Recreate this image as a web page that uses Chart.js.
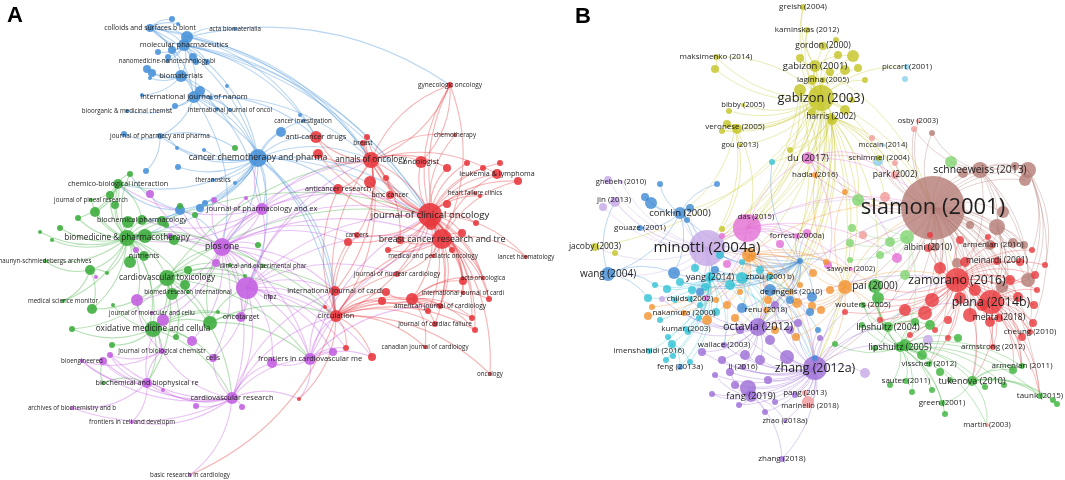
<!DOCTYPE html>
<html>
<head>
<meta charset="utf-8">
<script src="https://cdn.jsdelivr.net/npm/chart.js@4.4.1/dist/chart.umd.min.js"></script>
<style>
  html, body { margin: 0; background: #fff; }
  #wrap { width: 1065px; height: 480px; }
</style>
</head>
<body>
<div id="wrap"><canvas id="map"></canvas></div>
<script>
// map coordinates: [id, x, y, weight, label]

// ---- A : co-citation of journals ----
const blueA = [
  ['cs',150,28,16,'colloids and surfaces b biont'], ['b2',172,19,9], ['b3',187,37,36], ['b4',178,24,4],
  ['ab',235,29,4,'acta biomaterialia'], ['mp',184,45,36,'molecular pharmaceutics'],
  ['b5',172,50,16], ['b6',158,52,9], ['b7',193,57,16], ['b8',168,57,9],
  ['nn',167,61,4,'nanomedicine-nanotechnology bi'], ['b9',207,62,9], ['b10',196,62,9],
  ['bm',181,76,36,'biomaterials'], ['b11',147,69,16], ['b12',152,73,16], ['b13',150,78,4], ['b14',227,86,4],
  ['ijn',194,97,36,'international journal of nanom'], ['b15',200,91,25], ['b16',142,95,4], ['b17',211,98,4], ['b18',175,106,9],
  ['bo',127,111,4,'bioorganic & medicinal chemist'], ['ijo',230,110,4,'international journal of oncol'], ['b19',217,109,4],
  ['jpp',160,136,9,'journal of pharmacy and pharma'], ['b20',124,134,9], ['b21',177,148,4], ['b22',204,150,4],
  ['ccp',258,158,81,'cancer chemotherapy and pharma'], ['b23',146,171,9], ['b24',178,167,9], ['b25',235,183,4],
  ['th',213,180,4,'theranostics'], ['b26',180,210,25], ['b27',200,208,16], ['b28',205,203,9],
  ['ci',303,121,4,'cancer investigation'], ['b30',300,115,4], ['b29',281,132,25]
];
const greenA = [
  ['cbi',118,184,25,'chemico-biological interaction'], ['g1',130,174,9], ['g2',110,195,16], ['g3',115,205,16],
  ['jpr',91,200,4,'journal of pineal research'], ['bp',142,220,25,'biochemical pharmacology'],
  ['g4',95,212,25], ['g5',128,222,36], ['g6',162,221,25], ['g7',78,218,9], ['g8',60,228,9], ['g9',40,232,4], ['g10',52,240,4],
  ['bmp',127,238,64,'biomedicine & pharmacotherapy'], ['g11',145,236,49], ['g12',174,240,25],
  ['nut',144,256,25,'nutrients'], ['g13',130,262,36], ['nsa',45,261,4,'naunyn-schmiedebergs archives'],
  ['g15',90,270,25], ['g16',107,273,4], ['cvt',167,278,64,'cardiovascular toxicology'],
  ['g17',185,285,25], ['g18',188,270,16], ['g19',172,294,36], ['bri',188,292,4,'biomed research international'],
  ['msm',63,301,4,'medical science monitor'], ['g20',92,309,25], ['g21',113,305,4], ['g22',72,329,9],
  ['omc',153,329,64,'oxidative medicine and cellula'], ['g23',210,323,49], ['g24',176,337,9], ['g25',112,345,9],
  ['cep',263,266,4,'clinical and experimental phar'], ['g26',230,265,4], ['g27',195,215,9], ['g28',258,245,9],
  ['g29',180,206,9], ['g30',166,225,9], ['g31',103,383,4], ['g32',235,148,9], ['g33',245,276,4], ['g34',218,312,4]
];
const purpleA = [
  ['pl',222,247,81,'plos one'], ['p1',247,288,121], ['jpe',262,209,36,'journal of pharmacology and ex'],
  ['ot',241,317,25,'oncotarget'], ['hf',270,297,4,'hfpz'], ['jmc',152,313,4,'journal of molecular and cellu'],
  ['p2',163,320,36], ['p3',137,300,36], ['jbc',162,351,9,'journal of biological chemistr'],
  ['ce',213,358,16,'cells'], ['p4',192,341,25], ['be',82,361,4,'bioengineered'], ['p5',103,361,16], ['p6',110,355,9],
  ['bbr',147,383,25,'biochemical and biophysical re'], ['p7',163,390,4],
  ['cvr',232,398,36,'cardiovascular research'], ['p8',242,407,9], ['p9',196,406,9],
  ['abb',72,408,4,'archives of biochemistry and b'], ['fcd',132,422,4,'frontiers in cell and developm'],
  ['brc',190,475,4,'basic research in cardiology'], ['fcm',310,359,36,'frontiers in cardiovascular me'],
  ['p10',333,352,16], ['p11',272,363,25], ['p12',150,194,16], ['p13',214,200,9], ['p14',246,198,4],
  ['p15',216,263,16], ['p16',96,277,4], ['p17',136,250,9], ['p18',170,236,9]
];
const redA = [
  ['gy',450,85,9,'gynecologic oncology'], ['chm',455,135,4,'chemotherapy'], ['acd',316,137,36,'anti-cancer drugs'],
  ['br',363,143,9,'breast'], ['r1',367,137,9], ['ann',371,160,64,'annals of oncology'], ['ogt',421,162,36,'oncologist'],
  ['r2',318,154,25], ['acr',338,189,25,'anticancer research'], ['r3',370,182,36], ['r4',386,178,9],
  ['bmc',390,195,16,'bmc cancer'], ['jco',430,215,144,'journal of clinical oncology'], ['r5',431,224,36],
  ['ll',497,174,25,'leukemia & lymphoma'], ['r6',467,163,9], ['r7',447,168,16], ['r8',483,168,9], ['r9',500,163,9], ['r10',518,181,16],
  ['hfc',475,193,4,'heart failure clinics'], ['r11',480,196,4], ['r12',447,204,16], ['r13',476,223,9],
  ['cn',357,235,9,'cancers'], ['r14',348,242,16], ['bcr',442,239,100,'breast cancer research and tre'],
  ['r15',400,240,16], ['r16',462,233,16], ['r17',388,250,9], ['r18',452,250,9],
  ['mpo',433,256,4,'medical and pediatric oncology'], ['lh',526,257,4,'lancet haematology'],
  ['jnc',397,274,9,'journal of nuclear cardiology'], ['ao',483,278,4,'acta oncologica'], ['r19',463,281,16],
  ['ijc',335,291,25,'international journal of cardi'], ['r20',386,292,16], ['r21',382,301,16],
  ['ijc2',463,293,4,'international journal of cardi'], ['r22',489,299,9],
  ['ajc',440,306,9,'american journal of cardiology'], ['r23',412,299,36], ['r24',428,311,9],
  ['circ',336,316,36,'circulation'], ['r25',325,307,4], ['jcf',435,324,9,'journal of cardiac failure'],
  ['r26',472,318,9], ['r27',475,330,9], ['cjc',425,347,4,'canadian journal of cardiology'],
  ['r28',346,348,9], ['r29',372,357,16], ['r30',299,399,4], ['ol',490,374,4,'oncology']
];
// hub followed by the nodes it links to
const edgesA = [
  'mp cs b3 b5 b6 b7 b8 nn bm ijn ccp ann jco acd bcr b9',
  'cs b2 b3 b4 mp bm ijn ccp ann jco',
  'b3 ann acd mp ab gy',
  'bm b11 b12 b13 ijn ccp jpe b16',
  'ijn b15 b17 b18 bo ijo b19 jpp ccp acd ann pl circ',
  'ccp b29 ci acd ann jco bcr acr th b26 b27 b28 jpe pl bmp cbi bp p1 circ jpp b22 b21 b24 ijc b25',
  'jpp b20 b21 g32 b23',
  'b26 bmp cbi bp pl g1',
  'jpe pl bp cbi bmp ccp ann jco acr p1 p13 p14',
  'bmp cbi g1 g2 g3 jpr bp g4 g5 g6 g7 g8 g9 g10 g11 g12 nut g13 nsa g15 g16 cvt msm g20 omc pl jmc p3 p1 bri cep circ jco p17 p18',
  'cvt g17 g18 g19 omc g23 g24 pl p1 circ ijc ann jco fcm cvr g20 g22 p2 bbr g26 g33',
  'omc g21 g22 g25 p2 p3 jmc jbc cvr bbr g23 ot ce p4 g34',
  'cbi g1 g2 g3 g4 bp jpr g7 p12',
  'g23 pl p1 ot circ fcm',
  'g15 g20 msm nsa g16 p16',
  'g31 bbr p5',
  'pl p1 ot p15 p12 p13 p14 jpe g28 cep hf ce p4 circ ijc fcm acr jco ann bcr p2 p3 jmc cvr r14 cn g27 g29 g30',
  'p1 ot hf ce cvr fcm circ ijc p11 p10 acr bcr jco ann r28 r29 jnc',
  'cvr p8 p9 fcm p11 brc fcd abb bbr p7 jbc be p5 p6 circ ijc r30 ce',
  'fcm p10 p11 circ ijc r28 r29 jco bcr ajc r30',
  'bbr p5 p6 be abb fcd jbc p7 p2',
  'jbc p6 be p2 p3',
  'jco ann ogt bcr r5 ll r6 r7 r8 r9 r10 hfc r11 r12 r13 bmc acr r3 r4 br r1 acd r2 gy chm cn r14 r15 r16 r17 r18 mpo lh jnc ao r19 ijc2 r22 ajc r23 r24 jcf r26 r27 ol circ ijc',
  'ann ogt bcr acd r2 br r1 acr r3 gy chm bmc ll r7 cn r15 circ ijc',
  'bcr r15 r16 r17 r18 mpo jnc ao r19 ijc2 lh r22 ajc gy ll r10',
  'circ ijc r25 r20 r21 r23 ajc r24 jcf cjc r28 r29 r30 jnc r26 r27 ol bcr ann r14 cn acr brc',
  'r23 r20 r21 ijc2 r22 ajc r24 jcf r26 r27 cjc r19 ao',
  'gy ann ogt bcr'
];

// ---- B : co-citation of references ----
const yellowB = [
  ['gr',803,7,9,'greish (2004)'], ['km',807,30,9,'kaminskas (2012)'], ['go',823,46,16,'gordon (2000)'], ['y1',836,40,9],
  ['mk',716,57,9,'maksimenko (2014)'], ['y2',715,69,16], ['g1b',815,66,36,'gabizon (2001)'],
  ['y3',853,56,36], ['y4',845,70,25], ['y5',858,68,16], ['y6',800,58,16], ['y7',812,80,25], ['y8',838,55,16], ['y9',830,72,16], ['y10',865,80,9],
  ['lg',823,80,9,'laginha (2005)'], ['g3b',821,98,169,'gabizon (2003)'],
  ['y11',800,90,36], ['y12',845,110,25], ['y13',852,100,9], ['y14',832,120,25], ['y15',812,112,16],
  ['hr',831,117,16,'harris (2002)'], ['bb',743,105,4,'bibby (2005)'], ['y16',729,111,9],
  ['vr',735,127,9,'veronese (2005)'], ['y17',727,124,16], ['y18',737,129,25], ['y19',722,131,9],
  ['gou',740,145,4,'gou (2013)'], ['y20',790,150,9], ['jc',595,247,16,'jacoby (2003)'], ['y21',615,253,9],
  ['y22',722,229,9], ['sc',879,158,9,'schimmel (2004)']
];
const blueB = [
  ['wg',608,274,49,'wang (2004)'], ['ck',680,213,36,'conklin (2000)'], ['bl1',690,208,16], ['bl2',687,220,9],
  ['bl3',660,184,9], ['bl4',717,184,9], ['bl5',645,197,16], ['bl6',651,203,36], ['gz',640,228,9,'gouaze (2001)'],
  ['bl7',674,273,36], ['bl8',715,270,16], ['bl9',700,292,16], ['bl10',770,290,36], ['bl11',790,300,16], ['bh',800,261,9],
  ['bl12',742,308,25], ['bl13',812,297,25], ['bl14',810,312,16], ['bl15',818,330,9], ['bl16',815,358,9],
  ['fg',680,367,9,'feng (2013a)']
];
const cyanB = [
  ['yg',710,277,25,'yang (2014)'], ['zu',770,277,9,'zhou (2001b)'], ['cd',690,299,9,'childs (2002)'],
  ['im',649,351,9,'imenshahidi (2016)'], ['ku',686,329,9,'kumar (2003)'],
  ['c1',648,298,16], ['c2',667,289,16], ['c3',680,282,16], ['c4',692,290,16], ['c5',705,287,16],
  ['c6',675,300,9], ['c7',699,318,9], ['c8',668,337,9], ['c9',672,344,16], ['c10',673,356,9],
  ['c11',666,360,9], ['c12',720,255,16], ['c13',730,285,25], ['c14',742,278,36], ['c15',742,262,9],
  ['c16',695,268,16], ['c17',688,332,9], ['c18',690,362,9], ['c19',772,162,9], ['c20',760,270,16],
  ['c21',655,285,9], ['c22',700,305,9], ['c23',716,312,16], ['c24',660,320,9]
];
const lightBlueB = [
  ['pc',907,67,9,'piccart (2001)'], ['lb1',905,79,9], ['mc',883,145,4,'mccain (2014)'], ['lb2',878,161,25]
];
const orangeB = [
  ['hd',815,175,9,'hadla (2016)'], ['o1',845,192,9], ['nk',684,313,9,'nakamura (2000)'],
  ['da',791,292,9,'de angelis (2010)'], ['rn',766,310,9,'renu (2018)'],
  ['o2',749,255,49], ['o3',740,292,9], ['o4',768,300,16], ['o5',845,287,49], ['o6',648,316,16],
  ['o7',652,307,9], ['o8',707,320,25], ['o9',716,300,9], ['o10',727,305,16], ['o11',796,337,16],
  ['o12',797,303,25], ['o13',812,306,16], ['o14',821,310,16], ['o15',826,262,9], ['o16',813,273,16],
  ['o17',770,275,9], ['o18',800,285,9], ['o19',735,318,16], ['o20',775,330,16], ['o21',830,290,16]
];
const magentaB = [
  ['du',808,158,36,'du (2017)'], ['ds',756,217,4,'das (2015)'], ['m1',747,228,196],
  ['fr',797,236,9,'forrest (2000a)'], ['m2',807,233,16], ['m3',780,244,16], ['m4',727,264,16],
  ['m5',828,265,16], ['m6',897,258,25], ['m7',706,298,9], ['m8',722,236,9], ['sy',851,269,4,'sawyer (2002)']
];
const lavenderB = [
  ['mn',707,248,324,'minotti (2004a)'], ['gh',621,182,4,'ghebeh (2010)'], ['l1',608,180,16],
  ['jn',614,200,9,'jin (2013)'], ['l2',603,207,16], ['l3',615,202,25],
  ['l4',865,373,25], ['l5',928,340,25], ['l6',662,299,9]
];
const purpleB = [
  ['oc',758,327,81,'octavia (2012)'], ['zh',815,368,144,'zhang (2012a)'], ['wl',724,345,9,'wallace (2003)'],
  ['li',743,367,9,'li (2016)'], ['fa',751,396,36,'fang (2019)'], ['p1',748,388,64],
  ['zo',785,421,4,'zhao (2018a)'], ['z18',782,459,9,'zhang (2018)'],
  ['pp1',745,355,25], ['pp2',722,360,16], ['pp3',702,352,16], ['pp4',715,375,9], ['pp5',735,385,16],
  ['pp6',768,380,16], ['pp7',787,357,49], ['pp8',770,340,25], ['pp9',740,330,16], ['pp10',790,330,16],
  ['pp11',712,394,9], ['pp12',739,405,9], ['pp13',798,323,16], ['pp14',820,338,9], ['pp15',795,395,9],
  ['pp16',775,402,9], ['pp17',760,360,25], ['pp18',730,372,16], ['pp19',765,412,9], ['pp20',775,305,16]
];
const salmonB = [
  ['pg',805,393,9,'pang (2013)'], ['ml',810,406,4,'marinello (2018)'], ['s1',808,402,36],
  ['ob',918,121,4,'osby (2003)'], ['s2',914,129,9], ['pk',895,175,16,'park (2002)'],
  ['s3',885,197,25], ['s4',872,138,9], ['s5',895,163,9], ['s6',863,235,16], ['mt',987,425,4,'martin (2003)']
];
const brownB = [
  ['sl',933,208,1024,'slamon (2001)'], ['sw',980,170,64,'schneeweiss (2013)'],
  ['n1',1028,170,64], ['n2',1025,180,36], ['n3',963,173,25], ['n4',1015,166,16], ['n5',932,133,9],
  ['n6',1003,212,36], ['n7',997,227,64], ['n8',1013,243,25], ['n9',1024,245,16], ['n10',990,245,25],
  ['n11',970,225,16], ['n12',1028,280,49], ['n13',1002,287,36], ['n14',957,263,25], ['n15',935,247,16]
];
const redB = [
  ['zm',957,280,144,'zamorano (2016)'], ['pl',991,302,144,'plana (2014b)'], ['ai',928,248,16,'albini (2010)'],
  ['a16',993,245,9,'armenian (2016)'], ['mn2',997,261,16,'meinardi (2001)'], ['mh',999,318,16,'mehta (2018)'],
  ['cg',1030,332,9,'cheung (2010)'], ['as',993,347,9,'armstrong (2012)'],
  ['r1',940,268,36], ['r2',965,262,25], ['r3',932,300,49], ['r4',905,310,36], ['r5',925,313,49],
  ['r6',970,315,49], ['r7',982,305,36], ['r8',960,298,36], ['r9',1018,297,25], ['r10',1035,275,16],
  ['r11',1037,290,9], ['r12',1034,305,16], ['r13',1033,323,16], ['r14',948,320,16], ['r15',935,330,9],
  ['r16',910,335,9], ['r17',948,338,9], ['r18',880,320,9], ['r19',845,312,9], ['r20',990,322,25],
  ['r21',1022,337,16], ['r22',960,240,16], ['r23',930,235,9], ['r24',1032,250,9], ['r25',1020,262,16],
  ['r26',988,237,9], ['r27',1010,280,25], ['r28',975,290,36], ['r29',1045,265,9]
];
const greenB = [
  ['l04',888,327,25,'lipshultz (2004)'], ['l05',900,347,25,'lipshultz (2005)'], ['wo',863,305,9,'wouters (2005)'],
  ['pa',875,286,49,'pai (2000)'], ['g1',878,298,36], ['vi',929,364,9,'visscher (2012)'],
  ['sa',906,381,9,'sauter (2011)'], ['tu',972,381,25,'tukenova (2010)'], ['a11',1022,366,9,'armenian (2011)'],
  ['ta',1040,396,9,'taunk (2015)'], ['g2',1053,400,9], ['g3',1057,404,9], ['gn',942,403,9,'green (2001)'],
  ['g4',930,325,25], ['g5',905,345,36], ['g6',922,355,25], ['g7',958,338,16], ['g8',940,372,16],
  ['g9',950,380,9], ['g10',985,387,9], ['g11',1004,385,9], ['g12',1013,370,16], ['g13',890,385,9],
  ['g14',912,392,9], ['g15',932,390,9], ['g16',945,414,9], ['g17',875,348,9], ['g18',835,344,9],
  ['g19',862,325,9], ['g20',915,322,16]
];
const lightGreenB = [
  ['lg1',951,162,36], ['lg2',858,200,36], ['lg3',907,237,49], ['lg4',852,228,16], ['lg5',850,243,16],
  ['lg6',890,242,25], ['lg7',880,255,16], ['lg8',905,275,25], ['lg9',850,260,9]
];
const edgesB = [
  'g3b g1b gr km go y1 y3 y4 y5 y6 y7 y8 y9 y10 lg y11 y12 y13 y14 y15 hr mk y2 bb y16 vr y17 y18 y19 gou y20 du hd mn m1 oc ck sl jc y22 sc da fr o2 zh wl pc',
  'hr mn m1 sl oc du hd c19 zh o5 pa da fr lb2 pk s3 lg2 zm y20 bh',
  'g1b sl mn du m1 y3 y6 km gr',
  'y11 mn oc m1 bh',
  'vr mn y22 m1 ck y17 y19',
  'mk y2 g3b',
  'mn gh l1 jn l2 l3 ck bl1 wg jc yg c12 c14 oc wl zh sl m1 o2 ds fr bh bl10 cd nk l6 c16 bl7 gz',
  'bh yg zu c14 c15 c12 c20 c13 c3 c5 bl7 bl8 bl10 bl11 bl13 c19 m2 fr o2 da rn oc mn ck m3 o15 o16',
  'ck bl1 bl2 bl3 bl4 bl5 bl6 gz yg c16 bl7 wg',
  'wg bl7 c1 c21 l3',
  'yg c1 c2 c3 c4 c5 c6 c7 c8 c9 c10 c11 c12 c13 c14 c16 c17 c18 c21 c22 c23 c24 im ku cd oc wl fg da rn zh',
  'c14 c13 c20 oc o2 rn zh da bl10 bl12 zu',
  'c9 im c10 c11 fg c18 c8',
  'bl10 bl11 bl12 bl13 bl14 bl15 bl16 oc zh',
  'o2 o3 o4 o17 o18 rn da o12 o16 o15 o5 oc zh pa sl nk o6 o7 o8 o9 o10 o19 o20 o11',
  'o5 o12 o13 o14 o21 o16 pa wo zm sl l04 zh hd o1 o11',
  'm1 ds m8 m3 m2 fr du m4 sl oc zh m6 m5 m7 sy',
  'du hd o1 sl m6 m5 lb2 pk',
  'zh oc wl li fa p1 zo z18 pp1 pp2 pp3 pp4 pp5 pp6 pp7 pp8 pp9 pp10 pp11 pp12 pp13 pp14 pp15 pp16 pp17 pp18 pp19 pp20 pg ml s1 l4 g18 l05 l04 zm pl sl r19 bl16 bl15',
  'oc pp1 pp2 pp3 pp8 pp9 pp13 pp17 pp20 wl li ku nk cd rn da o8 o19 o20 o11 sl zm mn l6',
  'fa p1 z18 zo pp11 pp12 pp19 pp5 pp4 pp18',
  'sl sw n1 n2 n3 n4 n5 n6 n7 n8 n9 n10 n11 n12 n13 n14 n15 zm pl ai a16 mn2 mh cg as r1 r2 r3 r5 r6 r9 r10 r22 r23 r25 r26 r27 r28 pa g1 l04 l05 lg1 lg2 lg3 ob s2 pk s3 oc zh mn hd du ta a11 tu vi lb2 s5 sc',
  'sw n1 n2 n3 n4 n5 lg1 n6 n7 n12 cg pl zm s2',
  'n1 n12 r10 cg r29 r24',
  'n7 n8 n9 n10 n13 pl mh',
  'zm pl ai a16 mn2 mh cg as r1 r2 r3 r4 r5 r6 r7 r8 r9 r10 r11 r12 r13 r14 r15 r16 r17 r18 r19 r20 r21 r22 r23 r24 r25 r26 r27 r28 r29 l04 l05 g1 pa wo tu vi a11 ta',
  'pl mh cg as r9 r10 r11 r12 r13 r20 r21 r27 r28 n12 n13 a11 ta tu g12',
  'l05 l04 wo pa g1 vi sa tu a11 ta gn g4 g5 g6 g7 g8 g9 g10 g11 g12 g13 g14 g15 g16 g17 g18 g19 g20 mt',
  'l04 pa g1 wo g4 g5 g20 g19 g17 r4 r5',
  'tu ta g2 g3 g10 g11 g12 a11 gn mt',
  'lg3 lg4 lg5 lg6 lg7 lg8 lg2 lg9 pa l05'
];

// ---- styling ----
const panels = [
  {
    letter: 'A', letterAt: [7, 22],
    clusters: [[greenA, '#3fae3f'], [blueA, '#4a93d9'], [purpleA, '#c462e2'], [redA, '#e83a3f']],
    edges: edgesA, edgeAlpha: 0.38, edgeWidth: 1.1, nodeAlpha: 0.9,
    font: r => 5.5 + 0.34 * r
  },
  {
    letter: 'B', letterAt: [575, 23],
    clusters: [[lightGreenB, '#80d470'], [greenB, '#3bb33b'], [redB, '#e8383c'], [brownB, '#b47c75'],
               [salmonB, '#f29a9a'], [yellowB, '#c4c424'], [lightBlueB, '#8ad0ea'], [blueB, '#3f8bd4'],
               [cyanB, '#2fc2d6'], [orangeB, '#f2922e'], [magentaB, '#e36fd6'], [lavenderB, '#c6a8e6'],
               [purpleB, '#9b6bd6']],
    edges: edgesB, edgeAlpha: 0.38, edgeWidth: 0.9, nodeAlpha: 0.8,
    font: r => 6.6 + 0.48 * r
  }
];

function rgba(hex, a) {
  const n = parseInt(hex.slice(1), 16);
  return `rgba(${n >> 16},${(n >> 8) & 255},${n & 255},${a})`;
}

const datasets = [];
panels.forEach((panel, pi) => {
  panel.index = {};
  panel.clusters.forEach(([rows, color]) => {
    const pts = rows.map(([id, x, y, w, label]) => ({ x, y, r: Math.sqrt(w), id, label, color }));
    pts.forEach(p => { panel.index[p.id] = p; });
    pts.sort((a, b) => b.r - a.r);
    datasets.push({
      data: pts,
      panel: pi,
      backgroundColor: rgba(color, panel.nodeAlpha),
      borderWidth: 0,
      hoverRadius: 0,
      clip: false
    });
  });
});

const edgePlugin = {
  id: 'edges',
  beforeDatasetsDraw(chart) {
    const { ctx, scales: { x, y } } = chart;
    ctx.save();
    panels.forEach(panel => {
      ctx.lineWidth = panel.edgeWidth;
      panel.edges.forEach(line => {
        const [hub, ...targets] = line.trim().split(/\s+/);
        const a = panel.index[hub];
        targets.forEach(t => {
          const b = panel.index[t];
          if (!a || !b) return;
          const x1 = x.getPixelForValue(a.x), y1 = y.getPixelForValue(a.y);
          const x2 = x.getPixelForValue(b.x), y2 = y.getPixelForValue(b.y);
          const dx = x2 - x1, dy = y2 - y1;
          ctx.strokeStyle = rgba(a.color, panel.edgeAlpha);
          ctx.beginPath();
          ctx.moveTo(x1, y1);
          ctx.quadraticCurveTo((x1 + x2) / 2 + dy * 0.22, (y1 + y2) / 2 - dx * 0.22, x2, y2);
          ctx.stroke();
        });
      });
    });
    ctx.restore();
  }
};

const labelPlugin = {
  id: 'labels',
  afterDatasetsDraw(chart) {
    const { ctx, scales: { x, y } } = chart;
    ctx.save();
    ctx.textAlign = 'center';
    ctx.textBaseline = 'middle';
    ctx.fillStyle = '#1e1e1e';
    chart.data.datasets.forEach(ds => {
      const panel = panels[ds.panel];
      ds.data.forEach(p => {
        if (!p.label) return;
        ctx.font = `${panel.font(p.r).toFixed(1)}px "Open Sans"`;
        ctx.fillText(p.label, x.getPixelForValue(p.x), y.getPixelForValue(p.y));
      });
    });
    ctx.font = 'bold 22px "Liberation Sans", Arial, sans-serif';
    ctx.textAlign = 'left';
    ctx.textBaseline = 'alphabetic';
    ctx.fillStyle = '#000';
    panels.forEach(panel => {
      ctx.fillText(panel.letter, x.getPixelForValue(panel.letterAt[0]), y.getPixelForValue(panel.letterAt[1]));
    });
    ctx.restore();
  }
};

new Chart(document.getElementById('map'), {
  type: 'bubble',
  data: { datasets },
  options: {
    responsive: true,
    maintainAspectRatio: false,
    animation: false,
    events: [],
    layout: { padding: 0, autoPadding: false },
    plugins: { legend: { display: false }, tooltip: { enabled: false } },
    scales: {
      x: { type: 'linear', min: 0, max: 1065, display: false },
      y: { type: 'linear', min: 0, max: 480, reverse: true, display: false }
    }
  },
  plugins: [edgePlugin, labelPlugin]
});
</script>
</body>
</html>
